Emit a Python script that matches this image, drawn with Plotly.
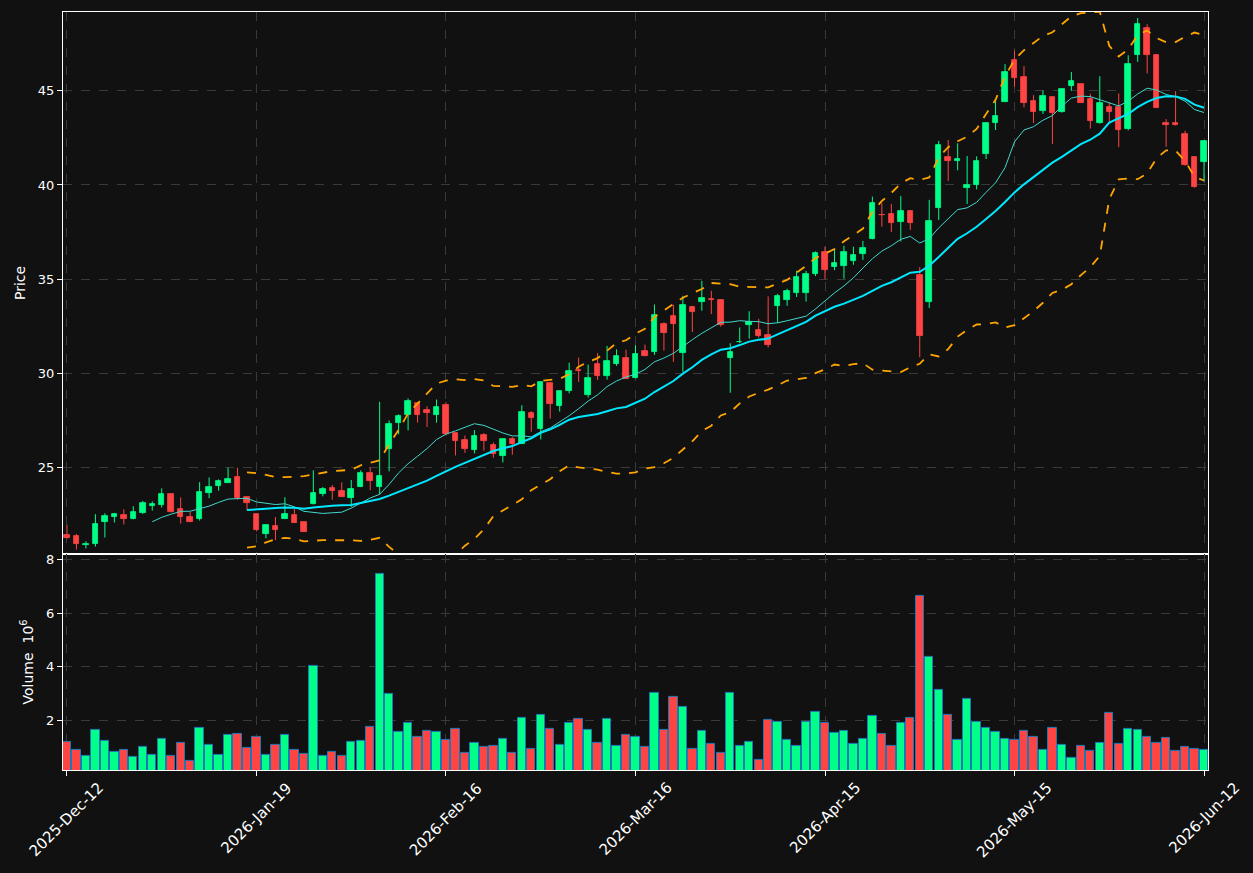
import pandas as pd
import plotly.graph_objects as go

tick_labels = ["2025-Dec-12", "2026-Jan-19", "2026-Feb-16", "2026-Mar-16",
               "2026-Apr-15", "2026-May-15", "2026-Jun-12"]
tick_index = [0, 20, 40, 60, 80, 100, 120]

opens = [21.41, 21.36, 20.89, 20.93, 22.12, 22.37, 22.47, 22.26, 22.58, 22.95,
         23.00, 23.58, 22.79, 22.37, 22.26, 23.65, 24.00, 24.19, 24.48, 23.43,
         22.52, 21.48, 21.89, 22.28, 22.47, 22.10, 23.05, 23.58, 23.90, 23.74,
         23.39, 23.96, 24.70, 23.96, 25.99, 27.36, 27.79, 28.40, 28.04, 27.79,
         28.30, 26.82, 26.45, 25.94, 26.71, 26.16, 25.59, 26.50, 26.25, 27.88,
         27.05, 29.47, 28.24, 29.04, 30.15, 28.85, 30.49, 29.86, 30.49, 30.79,
         29.75, 31.20, 31.11, 32.60, 33.02, 31.08, 33.50, 33.76, 33.96, 33.90,
         30.81, 31.66, 32.56, 32.31, 32.05, 33.56, 33.89, 34.25, 34.25, 35.27,
         36.42, 35.62, 35.67, 35.94, 36.34, 37.12, 38.42, 38.46, 38.03, 38.63,
         35.20, 33.78, 38.76, 41.49, 41.26, 39.82, 39.98, 41.63, 43.27, 44.42,
         46.63, 45.74, 44.47, 43.95, 44.67, 43.86, 45.28, 45.37, 44.56, 43.27,
         44.14, 44.14, 43.00, 46.88, 48.34, 46.89, 43.30, 43.30, 42.72, 41.50,
         41.20]
highs = [21.94, 21.45, 21.07, 22.51, 22.56, 22.58, 22.77, 22.93, 23.22, 23.19,
         23.88, 23.60, 23.40, 22.63, 24.21, 24.46, 24.36, 24.98, 24.98, 23.45,
         22.53, 21.98, 22.36, 23.41, 22.80, 22.12, 24.84, 23.95, 24.06, 24.20,
         24.33, 24.84, 25.00, 28.48, 27.49, 27.81, 28.66, 28.42, 28.25, 28.60,
         28.45, 26.83, 26.69, 26.98, 26.82, 26.32, 26.50, 26.60, 28.30, 27.98,
         29.53, 29.52, 29.03, 30.56, 30.83, 30.46, 31.07, 31.45, 31.27, 31.25,
         31.48, 31.52, 33.65, 32.70, 33.64, 34.11, 33.58, 34.91, 34.38, 33.91,
         31.59, 32.43, 33.29, 32.89, 34.08, 34.22, 34.49, 35.44, 35.44, 36.47,
         36.72, 36.55, 36.77, 36.72, 37.03, 39.38, 39.04, 38.99, 39.42, 38.64,
         35.64, 39.21, 42.34, 42.39, 42.21, 41.54, 41.52, 43.31, 44.54, 46.42,
         47.15, 46.31, 44.77, 45.02, 44.67, 45.10, 46.00, 45.38, 44.85, 45.78,
         44.39, 44.86, 46.89, 48.87, 48.54, 46.93, 43.50, 44.98, 42.88, 41.51,
         42.36]
lows = [21.22, 20.63, 20.69, 20.79, 21.27, 22.07, 21.96, 22.24, 22.52, 22.70,
        22.86, 22.60, 22.01, 22.10, 22.17, 23.36, 23.76, 24.18, 23.28, 22.72,
        21.60, 21.23, 21.13, 22.27, 22.05, 21.57, 23.03, 23.46, 23.28, 23.42,
        22.90, 23.95, 23.78, 23.57, 24.79, 26.75, 26.96, 27.37, 27.14, 27.37,
        26.70, 25.63, 25.77, 25.74, 25.88, 25.51, 25.26, 25.67, 26.24, 26.89,
        26.48, 27.59, 27.96, 28.93, 29.54, 28.71, 29.64, 29.66, 30.39, 29.70,
        29.73, 30.90, 30.97, 31.20, 30.60, 30.07, 32.19, 33.32, 33.14, 32.47,
        28.96, 31.60, 31.84, 31.89, 31.37, 32.67, 33.58, 34.05, 33.80, 35.16,
        34.99, 35.48, 35.02, 35.76, 36.02, 37.11, 37.79, 37.50, 37.00, 37.61,
        30.85, 33.46, 38.14, 40.21, 40.78, 38.99, 39.77, 41.38, 42.92, 44.40,
        45.22, 44.12, 43.29, 43.77, 42.17, 43.85, 45.00, 44.37, 43.00, 43.26,
        43.36, 42.01, 42.90, 46.54, 45.93, 44.10, 42.03, 43.16, 41.03, 39.86,
        40.18]
closes = [21.25, 20.95, 20.93, 21.99, 22.42, 22.53, 22.26, 22.63, 23.11, 23.03,
          23.58, 22.63, 22.37, 22.12, 23.69, 23.95, 24.27, 24.36, 23.39, 23.13,
          21.69, 21.94, 21.68, 22.52, 22.06, 21.59, 23.64, 23.85, 23.76, 23.43,
          23.85, 24.70, 24.27, 24.52, 27.30, 27.72, 28.52, 27.79, 27.86, 28.21,
          26.75, 26.41, 25.97, 26.64, 26.39, 25.72, 26.50, 26.24, 27.93, 27.61,
          29.52, 28.37, 29.03, 30.10, 30.12, 29.73, 29.84, 30.64, 30.90, 29.71,
          31.00, 30.92, 33.07, 32.12, 32.60, 33.60, 33.25, 34.02, 33.89, 32.56,
          31.11, 31.68, 32.70, 31.98, 31.50, 34.08, 34.35, 35.09, 35.25, 36.41,
          35.46, 35.83, 36.42, 36.30, 36.66, 39.05, 38.38, 37.97, 38.63, 37.97,
          31.98, 38.11, 42.14, 41.26, 41.40, 40.02, 41.29, 43.31, 43.68, 46.01,
          45.71, 44.38, 43.89, 44.72, 43.84, 45.10, 45.52, 44.38, 43.38, 44.37,
          43.89, 42.90, 46.41, 48.54, 46.93, 44.11, 43.18, 43.18, 41.04, 39.87,
          42.35]
volumes = [1.18, 0.88, 0.66, 1.63, 1.22, 0.83, 0.88, 0.62, 1.00, 0.70,
           1.29, 0.66, 1.14, 0.48, 1.70, 1.07, 0.70, 1.44, 1.48, 0.96,
           1.37, 0.70, 1.07, 1.44, 0.88, 0.74, 4.05, 0.66, 0.81, 0.66,
           1.18, 1.22, 1.74, 7.47, 2.97, 1.55, 1.89, 1.40, 1.59, 1.55,
           1.26, 1.67, 0.77, 1.14, 1.00, 1.03, 1.29, 0.77, 2.11, 0.92,
           2.22, 1.67, 1.07, 1.89, 2.07, 1.63, 1.14, 2.07, 1.03, 1.44,
           1.37, 1.00, 3.04, 1.63, 2.86, 2.52, 0.92, 1.59, 1.11, 0.77,
           3.04, 1.03, 1.18, 0.51, 2.00, 1.93, 1.26, 1.03, 1.96, 2.33,
           1.89, 1.52, 1.59, 1.11, 1.29, 2.15, 1.48, 1.03, 1.89, 2.11,
           6.65, 4.38, 3.15, 2.19, 1.26, 2.82, 1.93, 1.70, 1.55, 1.29,
           1.26, 1.59, 1.37, 0.88, 1.70, 1.07, 0.59, 1.03, 0.85, 1.14,
           2.26, 1.11, 1.67, 1.63, 1.40, 1.14, 1.33, 0.85, 1.00, 0.92,
           0.88]

UP = "#00ff88"
DOWN = "#ff4444"
BG = "#111111"
GRID = "#3a3a3a"

n = len(closes)
idx = list(range(n))
close_s = pd.Series(closes)
mav10 = close_s.rolling(10).mean()
mav20 = close_s.rolling(20).mean()
std20 = close_s.rolling(20).std()
bb_up = mav20 + 2 * std20
bb_lo = mav20 - 2 * std20

up = [c >= o for o, c in zip(opens, closes)]
colors = [UP if u else DOWN for u in up]

fig = go.Figure()

# wicks
for flag, col in ((True, UP), (False, DOWN)):
    wx, wy = [], []
    for i in idx:
        if up[i] == flag:
            wx += [i, i, None]
            wy += [lows[i], highs[i], None]
    fig.add_trace(go.Scatter(x=wx, y=wy, mode="lines",
                             line=dict(color=col, width=1),
                             hoverinfo="skip", showlegend=False,
                             xaxis="x", yaxis="y"))

# bodies
fig.add_trace(go.Bar(
    x=idx,
    y=[abs(c - o) for o, c in zip(opens, closes)],
    base=[min(o, c) for o, c in zip(opens, closes)],
    width=0.58,
    marker=dict(color=colors, line=dict(color=colors, width=0.8)),
    showlegend=False, xaxis="x", yaxis="y"))

# moving averages & bands
fig.add_trace(go.Scatter(x=idx, y=mav10, mode="lines",
                         line=dict(color="#40d8cc", width=1),
                         showlegend=False, xaxis="x", yaxis="y"))
fig.add_trace(go.Scatter(x=idx, y=mav20, mode="lines",
                         line=dict(color="#00e8ff", width=2),
                         showlegend=False, xaxis="x", yaxis="y"))
for band in (bb_up, bb_lo):
    fig.add_trace(go.Scatter(x=idx, y=band, mode="lines",
                             line=dict(color="#ffa500", width=1.8, dash="dash"),
                             showlegend=False, xaxis="x", yaxis="y"))

# volume
fig.add_trace(go.Bar(
    x=idx, y=volumes, width=0.88,
    marker=dict(color=colors, line=dict(color="#1f77b4", width=1)),
    showlegend=False, xaxis="x2", yaxis="y2"))

split = 0.2851
base_axis = dict(showline=True, linecolor="white", linewidth=1, mirror=True,
                 showgrid=True, gridcolor=GRID, griddash="dash", gridwidth=1,
                 zeroline=False, tickcolor="white", ticklen=5)
ytick_font = dict(color="white", size=13, family="DejaVu Sans")

fig.update_layout(
    width=1253, height=873,
    paper_bgcolor=BG, plot_bgcolor=BG,
    margin=dict(l=63, r=45, t=10, b=103),
    barmode="overlay",
    bargap=0,
    font=dict(family="DejaVu Sans", color="white", size=13),
    xaxis=dict(domain=[0, 1], anchor="y", range=[-0.42, 120.42],
               tickvals=tick_index, showticklabels=False, ticks="", **base_axis),
    xaxis2=dict(domain=[0, 1], anchor="y2", range=[-0.42, 120.42], matches="x",
                tickvals=tick_index, showticklabels=False, ticks="outside",
                **base_axis),
    yaxis=dict(domain=[split, 1], anchor="x", range=[20.40, 49.19],
               tickvals=[25, 30, 35, 40, 45], ticks="outside", tickfont=ytick_font,
               title=dict(text="Price", standoff=8,
                          font=dict(size=14, color="white")),
               **base_axis),
    yaxis2=dict(domain=[0, split], anchor="x2", range=[0.144, 8.22],
                tickvals=[2, 4, 6, 8], ticks="outside", tickfont=ytick_font,
                title=dict(text="Volume  10<sup>6</sup>", standoff=9,
                           font=dict(size=14, color="white")),
                **base_axis),
)

# date labels, centred under their ticks and rotated 45 degrees
for pos, lab in zip(tick_index, tick_labels):
    fig.add_annotation(x=pos, xref="x2", y=0, yref="y2 domain",
                       text=lab, showarrow=False, textangle=-45,
                       xanchor="center", yanchor="top", yshift=-6,
                       font=dict(size=15, color="white", family="DejaVu Sans"))

fig.write_html("out.html")
